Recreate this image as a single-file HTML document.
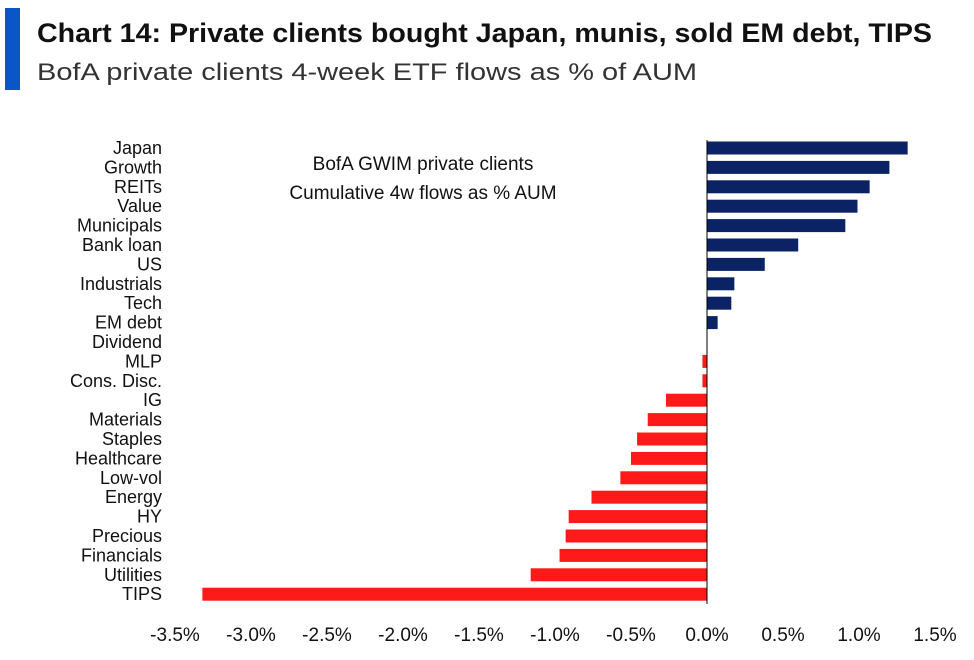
<!DOCTYPE html>
<html><head><meta charset="utf-8"><style>
body{margin:0;background:#fff;width:974px;height:655px;overflow:hidden;font-family:"Liberation Sans Narrow","Liberation Sans",sans-serif}
</style></head><body>
<svg width="974" height="655">
<rect x="5" y="8" width="15" height="82" fill="#0a55c8"/>
<text x="37" y="42" font-family="Liberation Sans" font-weight="bold" font-size="27" fill="#111" textLength="895" lengthAdjust="spacingAndGlyphs">Chart 14: Private clients bought Japan, munis, sold EM debt, TIPS</text>
<text x="37" y="80" font-family="Liberation Sans" font-size="24" fill="#333" textLength="660" lengthAdjust="spacingAndGlyphs">BofA private clients 4-week ETF flows as % of AUM</text>
<text x="423" y="170" text-anchor="middle" font-size="19" fill="#111">BofA GWIM private clients</text>
<text x="423" y="199" text-anchor="middle" font-size="19" fill="#111">Cumulative 4w flows as % AUM</text>
<g id="bars"></g>
<g id="labels"></g>
<g id="ticks"></g>
<line x1="707" y1="140" x2="707" y2="604" stroke="#000" stroke-width="1"/>
</svg>
<script>
const categories=["Japan","Growth","REITs","Value","Municipals","Bank loan","US","Industrials","Tech","EM debt","Dividend","MLP","Cons. Disc.","IG","Materials","Staples","Healthcare","Low-vol","Energy","HY","Precious","Financials","Utilities","TIPS"];
const values=[1.32,1.20,1.07,0.99,0.91,0.60,0.38,0.18,0.16,0.07,0,-0.03,-0.03,-0.27,-0.39,-0.46,-0.50,-0.57,-0.76,-0.91,-0.93,-0.97,-1.16,-3.32];
const tickValues=[-3.5,-3.0,-2.5,-2.0,-1.5,-1.0,-0.5,0.0,0.5,1.0,1.5];
const ns="http://www.w3.org/2000/svg";
const x=v=>707+v*152;
const y=i=>148+i*19.4;
const bars=document.getElementById('bars'),labels=document.getElementById('labels'),ticks=document.getElementById('ticks');
categories.forEach((c,i)=>{
 const v=values[i];
 const r=document.createElementNS(ns,'rect');
 r.setAttribute('x',Math.min(x(0),x(v)));r.setAttribute('y',y(i)-6.5);
 r.setAttribute('width',Math.abs(x(v)-x(0)));r.setAttribute('height',13);
 r.setAttribute('fill',v>=0?'#0b2265':'#ff1a1a');
 
 
 bars.appendChild(r);
 const t=document.createElementNS(ns,'text');
 t.setAttribute('x',162);t.setAttribute('y',y(i)+6);t.setAttribute('text-anchor','end');
 t.setAttribute('font-size','18');t.setAttribute('fill','#111');t.textContent=c;
 
 
 labels.appendChild(t);
});
tickValues.forEach(v=>{
 const t=document.createElementNS(ns,'text');
 t.setAttribute('x',x(v));t.setAttribute('y',641);t.setAttribute('text-anchor','middle');
 t.setAttribute('font-size','19');t.setAttribute('fill','#111');t.textContent=v.toFixed(1)+'%';
 
 
 ticks.appendChild(t);
});
</script>
</body></html>
